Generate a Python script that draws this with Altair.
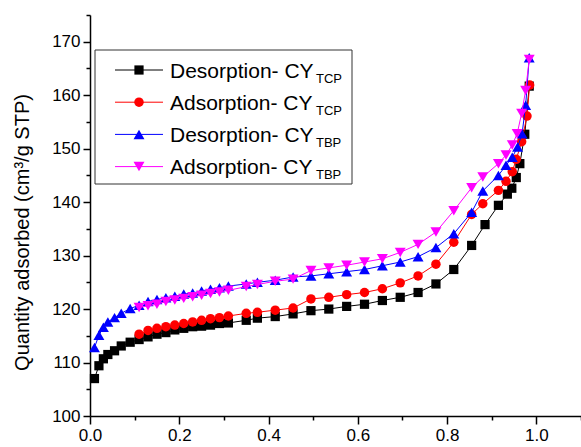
import altair as alt
import pandas as pd

# ---------------- data ----------------
des_tcp_x = [0.01, 0.02, 0.03, 0.04, 0.055, 0.07, 0.09, 0.11, 0.13, 0.15,
             0.17, 0.19, 0.21, 0.23, 0.25, 0.27, 0.29, 0.31, 0.35, 0.375,
             0.415, 0.455, 0.495, 0.535, 0.575, 0.615, 0.655, 0.695, 0.735, 0.775,
             0.815, 0.855, 0.885, 0.915, 0.935, 0.945, 0.955, 0.963, 0.974, 0.984]
des_tcp_y = [107.0, 109.4, 110.7, 111.5, 112.2, 113.1, 113.8, 114.3, 114.8, 115.3,
             115.6, 116.1, 116.4, 116.7, 116.8, 117.0, 117.3, 117.4, 117.9, 118.3,
             118.6, 119.1, 119.7, 120.0, 120.5, 120.9, 121.6, 122.2, 123.1, 124.7,
             127.4, 131.9, 135.8, 139.4, 141.5, 142.6, 144.6, 147.2, 152.7, 161.7]

ads_tcp_x = [0.11, 0.13, 0.15, 0.17, 0.19, 0.21, 0.23, 0.25, 0.27, 0.29,
             0.31, 0.35, 0.375, 0.415, 0.455, 0.495, 0.535, 0.575, 0.615, 0.655,
             0.695, 0.735, 0.775, 0.815, 0.855, 0.88, 0.915, 0.932, 0.946, 0.955,
             0.967, 0.979, 0.985]
ads_tcp_y = [115.3, 116.0, 116.4, 116.7, 117.0, 117.3, 117.6, 117.9, 118.2, 118.4,
             118.7, 119.2, 119.4, 119.8, 120.2, 121.9, 122.2, 122.7, 123.1, 123.8,
             124.9, 126.2, 128.4, 132.5, 137.7, 139.7, 142.2, 143.9, 145.7, 148.0,
             151.3, 156.1, 161.9]

des_tbp_x = [0.01, 0.02, 0.03, 0.04, 0.055, 0.07, 0.09, 0.11, 0.13, 0.15,
             0.17, 0.19, 0.21, 0.23, 0.25, 0.27, 0.29, 0.31, 0.35, 0.375,
             0.415, 0.455, 0.495, 0.535, 0.575, 0.615, 0.655, 0.695, 0.735, 0.775,
             0.815, 0.855, 0.88, 0.915, 0.932, 0.946, 0.958, 0.968, 0.976, 0.984]
des_tbp_y = [112.8, 115.1, 116.6, 117.6, 118.4, 119.2, 120.1, 120.7, 121.4, 121.8,
             122.1, 122.4, 122.8, 123.0, 123.4, 123.7, 124.0, 124.3, 124.7, 125.0,
             125.4, 126.0, 126.2, 126.6, 127.0, 127.4, 128.1, 128.8, 129.8, 131.5,
             134.1, 138.1, 142.1, 145.0, 146.9, 148.4, 150.3, 152.8, 158.1, 167.0]

ads_tbp_x = [0.11, 0.13, 0.15, 0.17, 0.19, 0.21, 0.23, 0.25, 0.27, 0.29,
             0.31, 0.35, 0.375, 0.415, 0.455, 0.495, 0.535, 0.575, 0.615, 0.655,
             0.695, 0.735, 0.775, 0.815, 0.855, 0.88, 0.915, 0.932, 0.946, 0.957,
             0.967, 0.976, 0.984]
ads_tbp_y = [120.3, 120.6, 120.9, 121.4, 121.7, 122.0, 122.3, 122.6, 122.9, 123.2,
             123.5, 124.2, 124.6, 125.2, 125.6, 127.2, 127.7, 128.2, 128.8, 129.4,
             130.6, 132.1, 134.4, 138.4, 142.7, 144.7, 147.2, 148.8, 150.7, 152.8,
             156.6, 160.9, 166.7]

legend_labels = ["Desorption- CY", "Adsorption- CY", "Desorption- CY", "Adsorption- CY"]
legend_subs = ["TCP", "TCP", "TBP", "TBP"]
x_ticks = [round(i * 0.1, 1) for i in range(12)]
y_ticks = list(range(100, 180, 5))

# ---------------- styling ----------------
FONT = "Liberation Sans"
colors = ["#000000", "#FF0000", "#0000FF", "#FF00FF"]
shapes = ["square", "circle", "triangle-up", "triangle-down"]
sizes = [85, 90, 120, 120]

xscale = alt.Scale(domain=[0, 1.1], nice=False, zero=False)
yscale = alt.Scale(domain=[100, 175], nice=False, zero=False)

x_axis = alt.Axis(
    values=x_ticks,
    labelExpr="(round(datum.value*10) % 2 == 0 && datum.value < 1.05) ? format(datum.value, '.1f') : ''",
    tickSize={"condition": {"test": "round(datum.value*10) % 2 == 1", "value": 4}, "value": 8},
    title=None, grid=False,
    domainColor="black", tickColor="black", domainWidth=1.5, tickWidth=1.5,
    labelFont=FONT, labelFontSize=17, labelColor="black", labelPadding=3,
    labelOverlap=False, labelFlush=False,
)
y_axis = alt.Axis(
    values=y_ticks,
    labelExpr="datum.value % 10 == 0 ? datum.label : ''",
    tickSize={"condition": {"test": "datum.value % 10 != 0", "value": 4}, "value": 7},
    title="Quantity adsorbed (cm³/g STP)",
    titleFont=FONT, titleFontSize=20, titleFontWeight="normal", titleColor="black",
    titleX=-78, titleY=217, titleBaseline="top", titleAlign="center",
    grid=False,
    domainColor="black", tickColor="black", domainWidth=1.5, tickWidth=1.5,
    labelFont=FONT, labelFontSize=17, labelColor="black", labelPadding=3,
    labelOverlap=False, labelFlush=False,
)

X = alt.X("x:Q", scale=xscale, axis=x_axis)
Y = alt.Y("y:Q", scale=yscale, axis=y_axis)

series = [(des_tcp_x, des_tcp_y), (ads_tcp_x, ads_tcp_y),
          (des_tbp_x, des_tbp_y), (ads_tbp_x, ads_tbp_y)]

layers = []
for i, (xs, ys) in enumerate(series):
    df = pd.DataFrame({"x": xs, "y": ys})
    base = alt.Chart(df)
    layers.append(base.mark_line(color=colors[i], strokeWidth=1).encode(x=X, y=Y))
    layers.append(base.mark_point(shape=shapes[i], filled=True, color=colors[i],
                                  size=sizes[i], opacity=1).encode(x=X, y=Y))

# ---------------- legend (drawn manually to allow subscripts) ----------------
one = pd.DataFrame({"a": [0]})
layers.append(alt.Chart(one).mark_rect(fill="white", stroke="#333333", strokeWidth=1).encode(
    x=alt.value(5), x2=alt.value(262), y=alt.value(35), y2=alt.value(169)))
row_y = [55, 87.2, 119.4, 151.6]
for i in range(4):
    ry = row_y[i]
    ldf = pd.DataFrame({"label": [legend_labels[i]], "sub": [legend_subs[i]]})
    lb = alt.Chart(ldf)
    layers.append(lb.mark_rule(color=colors[i], strokeWidth=1).encode(
        x=alt.value(25), x2=alt.value(73), y=alt.value(ry)))
    layers.append(lb.mark_point(shape=shapes[i], filled=True, color=colors[i],
                                size=sizes[i], opacity=1).encode(x=alt.value(49), y=alt.value(ry)))
    layers.append(lb.mark_text(align="left", baseline="alphabetic", font=FONT, fontSize=21,
                               color="black").encode(x=alt.value(80), y=alt.value(ry + 7.5), text="label:N"))
    layers.append(lb.mark_text(align="left", baseline="alphabetic", font=FONT, fontSize=13,
                               color="black").encode(x=alt.value(226), y=alt.value(ry + 12.5), text="sub:N"))

chart = alt.layer(*layers).properties(
    width=491, height=401,
    autosize=alt.AutoSizeParams(type="none"),
    padding={"left": 90, "top": 15, "right": 0, "bottom": 31},
    background="white",
).configure_view(stroke=None)

chart.save("out.html", embed_options={"renderer": "svg", "actions": False})
